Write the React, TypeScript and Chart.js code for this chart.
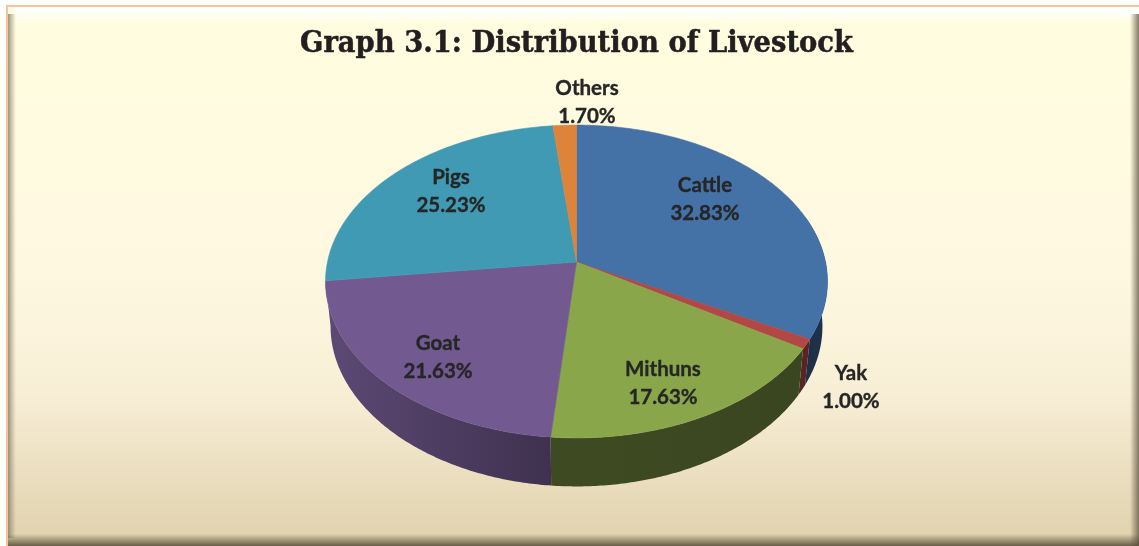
import React, { useEffect, useRef } from "react";
import { Chart, registerables } from "chart.js";

Chart.register(...registerables);

const categories = ["Cattle", "Yak", "Mithuns", "Goat", "Pigs", "Others"];
const shares = [32.83, 1.0, 17.63, 21.63, 25.23, 1.7];
const sliceColors = ["#4471a6", "#b24845", "#8aa64b", "#72598f", "#409ab3", "#de843a"];
const valueLabels = ["32.83%", "1.00%", "17.63%", "21.63%", "25.23%", "1.70%"];
const titleText = "Graph 3.1: Distribution of Livestock";

const W = 1139;
const H = 546;
// Perspective view of the disc
const CX = 576.5;
const CY = 262;
const SX = 249;
const SY = 154;
const PERSP = 0.1246;
const DEPTH_SIDE = 45;
const DEPTH_FRONT_EXTRA = 3.5;
const BOTTOM_SCALE = 0.98;
// Label centres (layout)
const labelSpots: [number, number][] = [
  [705, 199], [851, 387], [663, 383], [438, 357], [451, 191], [587, 102],
];
// Wall brightness at the left and right end of each slice's wall
const wallShade: [number, number][] = [
  [0.42, 0.44], [0.5, 0.5], [0.45, 0.42], [0.82, 0.55], [0.8, 0.8], [0.8, 0.8],
];

function project(a: number) {
  const u = Math.cos(a);
  const v = Math.sin(a);
  const w = 1 - PERSP * v;
  return [CX + (SX * u) / w, CY + (SY * v) / w, v];
}
function lower(p: number[]) {
  const depth = DEPTH_SIDE + DEPTH_FRONT_EXTRA * p[2] * p[2];
  return [CX + (p[0] - CX) * BOTTOM_SCALE, p[1] + depth];
}
function shade(hex: string, f: number) {
  const n = parseInt(hex.slice(1), 16);
  const r = Math.round(((n >> 16) & 255) * f);
  const g = Math.round(((n >> 8) & 255) * f);
  const b = Math.round((n & 255) * f);
  return `rgb(${r},${g},${b})`;
}

const perspectivePie = {
  id: "perspectivePie",
  beforeDraw(chart: any) {
    const ctx = chart.ctx;
    ctx.save();
    ctx.fillStyle = "#ffffff";
    ctx.fillRect(0, 0, W, H);
    const g = ctx.createLinearGradient(0, 6, 0, H);
    g.addColorStop(0, "#fffde0");
    g.addColorStop(0.5, "#fef8e0");
    g.addColorStop(0.72, "#f8eed6");
    g.addColorStop(0.93, "#e5d8b6");
    g.addColorStop(1, "#e0d2ae");
    ctx.fillStyle = g;
    ctx.fillRect(7, 6, W - 7, H - 6);
    // bevel
    let b = ctx.createLinearGradient(0, 6, 0, 22);
    b.addColorStop(0, "rgba(255,255,255,1)");
    b.addColorStop(0.55, "rgba(255,255,255,0.8)");
    b.addColorStop(1, "rgba(255,255,255,0)");
    ctx.fillStyle = b;
    ctx.fillRect(14, 6, W - 14, 16);
    b = ctx.createLinearGradient(8, 0, 16, 0);
    b.addColorStop(0, "rgba(120,115,95,0.75)");
    b.addColorStop(1, "rgba(150,140,110,0)");
    ctx.fillStyle = b;
    ctx.fillRect(8, 14, 8, H - 22);
    b = ctx.createLinearGradient(0, 534, 0, H);
    b.addColorStop(0, "rgba(90,80,60,0)");
    b.addColorStop(1, "rgba(90,80,60,0.9)");
    ctx.fillStyle = b;
    ctx.fillRect(8, 534, W - 8, 12);
    b = ctx.createLinearGradient(1130, 0, W, 0);
    b.addColorStop(0, "rgba(90,80,60,0)");
    b.addColorStop(1, "rgba(90,80,60,0.75)");
    ctx.fillStyle = b;
    ctx.fillRect(1130, 14, 9, H - 14);
    // frame
    ctx.fillStyle = "#f9c39b";
    ctx.fillRect(6, 5, W - 6, 2);
    ctx.fillRect(6, 5, 2, H - 5);
    // title
    ctx.fillStyle = "#231f20";
    ctx.strokeStyle = "#231f20";
    ctx.lineWidth = 0.5;
    ctx.font = "bold 29px 'DejaVu Serif'";
    ctx.textAlign = "center";
    ctx.textBaseline = "alphabetic";
    ctx.fillText(titleText, 576.5, 52, 553);
    ctx.strokeText(titleText, 576.5, 52, 553);
    ctx.restore();
  },
  beforeDatasetsDraw(chart: any) {
    const ctx = chart.ctx;
    const arcs = chart.getDatasetMeta(0).data;
    const colors = chart.data.datasets[0].backgroundColor;
    ctx.save();
    // side wall: one polygon per slice facing the viewer
    arcs.forEach((arc: any, i: number) => {
      if (Math.sin(arc.endAngle) < -0.3) return;
      const startAngle = Math.max(arc.startAngle, -0.3);
      const endAngle = arc.endAngle;
      const steps = Math.max(4, Math.ceil((endAngle - startAngle) / 0.01));
      const upper: number[][] = [];
      for (let k = 0; k <= steps; k++) {
        upper.push(project(startAngle + ((endAngle - startAngle) * k) / steps));
      }
      const xs = upper.flatMap((p) => [p[0], lower(p)[0]]);
      const grad = ctx.createLinearGradient(Math.min(...xs), 0, Math.max(...xs), 0);
      grad.addColorStop(0, shade(colors[i], wallShade[i][0]));
      grad.addColorStop(1, shade(colors[i], wallShade[i][1]));
      ctx.beginPath();
      upper.forEach((p, k) => (k ? ctx.lineTo(p[0], p[1]) : ctx.moveTo(p[0], p[1])));
      for (let k = upper.length - 1; k >= 0; k--) {
        const q = lower(upper[k]);
        ctx.lineTo(q[0], q[1]);
      }
      ctx.closePath();
      ctx.fillStyle = grad;
      ctx.fill();
    });
    // top face
    arcs.forEach((arc: any, i: number) => {
      const { startAngle, endAngle } = arc;
      const steps = Math.max(4, Math.ceil((endAngle - startAngle) / 0.01));
      ctx.beginPath();
      ctx.moveTo(CX, CY);
      for (let k = 0; k <= steps; k++) {
        const p = project(startAngle + ((endAngle - startAngle) * k) / steps);
        ctx.lineTo(p[0], p[1]);
      }
      ctx.closePath();
      ctx.fillStyle = colors[i];
      ctx.strokeStyle = colors[i];
      ctx.lineWidth = 0.6;
      ctx.fill();
      ctx.stroke();
    });
    // labels
    ctx.fillStyle = "#262626";
    ctx.strokeStyle = "#262626";
    ctx.lineWidth = 0.35;
    ctx.font = "bold 20.5px Lato";
    ctx.textAlign = "center";
    ctx.textBaseline = "middle";
    categories.forEach((c, i) => {
      const [x, y] = labelSpots[i];
      ctx.fillText(c, x, y - 14);
      ctx.strokeText(c, x, y - 14);
      ctx.fillText(valueLabels[i], x, y + 14);
      ctx.strokeText(valueLabels[i], x, y + 14);
    });
    ctx.restore();
    return false;
  },
};

export default function App() {
  const ref = useRef<HTMLCanvasElement>(null);
  useEffect(() => {
    document.body.style.margin = "0";
    const chart = new Chart(ref.current as HTMLCanvasElement, {
      type: "pie",
      data: {
        labels: categories,
        datasets: [{ data: shares, backgroundColor: sliceColors, borderWidth: 0 }],
      },
      options: {
        responsive: false,
        animation: false,
        rotation: 0,
        plugins: { legend: { display: false }, tooltip: { enabled: false } },
      },
      plugins: [perspectivePie],
    } as any);
    return () => chart.destroy();
  }, []);
  return <canvas ref={ref} width={W} height={H} style={{ display: "block" }} />;
}
